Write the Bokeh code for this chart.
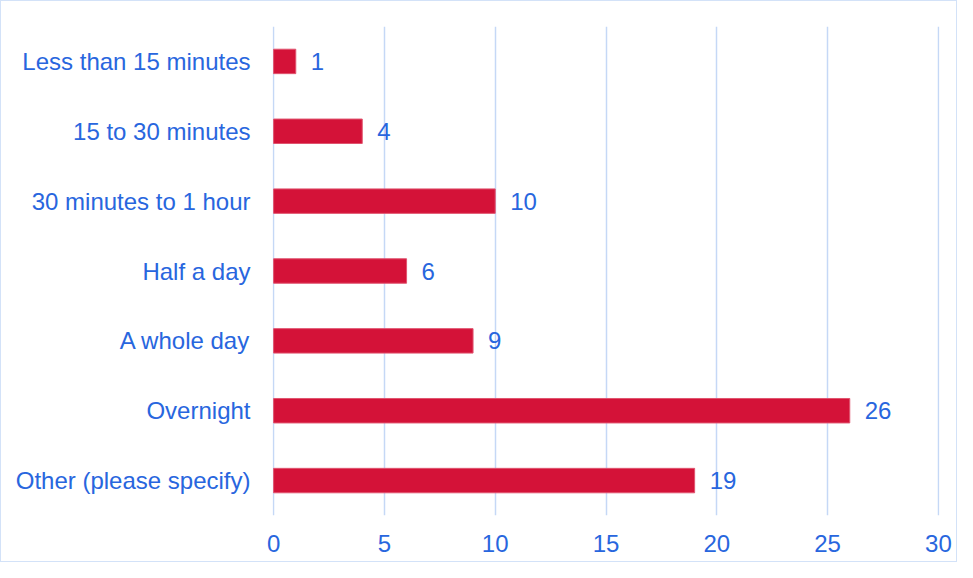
from bokeh.plotting import figure
from bokeh.models import ColumnDataSource, FactorRange, Range1d, FixedTicker
from bokeh.core.properties import value
from bokeh.embed import file_html
from bokeh.resources import INLINE

categories = ["Less than 15 minutes", "15 to 30 minutes", "30 minutes to 1 hour",
              "Half a day", "A whole day", "Overnight", "Other (please specify)"]
values = [1, 4, 10, 6, 9, 26, 19]
x_ticks = [0, 5, 10, 15, 20, 25, 30]

TEXT = "#2866de"
BAR = "#d41238"
GRID = "#c5d8f6"
FONT = "Liberation Sans"
FSIZE = "24px"

src = ColumnDataSource(dict(cat=categories, val=values, lab=[str(v) for v in values]))

p = figure(width=957, height=562, output_backend="svg", toolbar_location=None,
           y_range=FactorRange(factors=list(reversed(categories)), range_padding=0),
           x_range=Range1d(-0.05, 30.05),
           min_border_left=271, min_border_right=19, min_border_top=25, min_border_bottom=48)
p.styles = {"border": "1px solid #d3e2f8"}
p.outline_line_color = None
p.background_fill_color = "white"

p.hbar(y="cat", right="val", left=0, height=0.35, source=src,
       fill_color=BAR, line_color="#e0546f", line_width=1)
p.text(x="val", y="cat", text="lab", source=src, x_offset=15,
       text_align="left", text_baseline="middle",
       text_font=value(FONT), text_font_size=FSIZE, text_color=TEXT)

p.xaxis.ticker = FixedTicker(ticks=x_ticks)
p.xaxis.axis_line_color = None
p.xaxis.major_tick_line_color = None
p.xaxis.minor_tick_line_color = None
p.xaxis.major_label_text_font = FONT
p.xaxis.major_label_text_font_size = FSIZE
p.xaxis.major_label_text_color = TEXT
p.xaxis.major_label_standoff = 13

p.yaxis.axis_line_color = None
p.yaxis.major_tick_line_color = None
p.yaxis.minor_tick_line_color = None
p.yaxis.major_label_text_font = FONT
p.yaxis.major_label_text_font_size = FSIZE
p.yaxis.major_label_text_color = TEXT
p.yaxis.major_label_standoff = 16

p.ygrid.grid_line_color = None
p.xgrid.grid_line_color = GRID
p.xgrid.grid_line_width = 1.5

open("out.html", "w").write(file_html(p, INLINE))
